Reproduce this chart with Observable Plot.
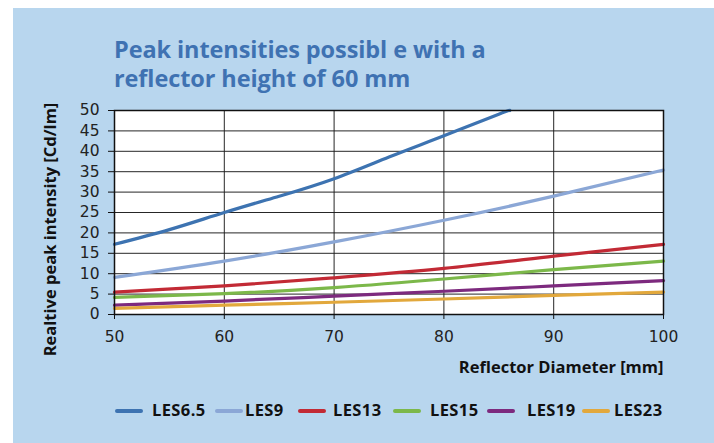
<!DOCTYPE html>
<html>
<head>
<meta charset="utf-8">
<script src="https://cdn.jsdelivr.net/npm/d3@7"></script>
<script src="https://cdn.jsdelivr.net/npm/@observablehq/plot@0.6"></script>
<style>
  html, body { margin: 0; padding: 0; background: #ffffff; width: 714px; height: 443px; overflow: hidden; }
  #panel { position: absolute; left: 13px; top: 8px; width: 701px; height: 435px; background: #b8d6ee; }
  #title { position: absolute; left: 114px; top: 35px; font-family: "Open Sans", sans-serif; font-weight: 700; font-size: 23.5px; line-height: 29px; color: #3f72b2; letter-spacing: -0.1px; }
  #chart { position: absolute; left: 0; top: 0; }
  #legend { position: absolute; left: 0; top: 399px; width: 714px; height: 24px; font-family: "Open Sans", sans-serif; font-weight: 700; font-size: 16.5px; color: #111; }
  .sw { position: absolute; top: 10px; width: 28px; height: 3.5px; border-radius: 2px; }
  .lt { position: absolute; top: 0; line-height: 22px; letter-spacing: 0.4px; }
</style>
</head>
<body>
<div id="panel"></div>
<div id="title">Peak intensities possibl e with a<br>reflector height of 60 mm</div>
<div id="chart"></div>
<div id="legend"></div>
<script>
// Data
const diameter = [50, 60, 70, 80, 90, 100];
const les65Diameter = [50, 55, 60, 65, 70, 75, 80, 85, 86];
const les65 = [17.2, 20.8, 25.0, 29.0, 33.3, 38.6, 43.8, 49.1, 50];
const les9  = [9.1, 13.1, 17.8, 23.1, 29.0, 35.4];
const les13 = [5.5, 7.0, 9.0, 11.3, 14.3, 17.2];
const les15 = [4.2, 5.1, 6.6, 8.7, 11.0, 13.1];
const les19 = [2.3, 3.3, 4.5, 5.7, 7.0, 8.3];
const les23 = [1.5, 2.3, 3.0, 3.8, 4.7, 5.5];
const seriesNames = ["LES6.5", "LES9", "LES13", "LES15", "LES19", "LES23"];
const seriesColors = ["#3d73b1", "#8ba7d6", "#c22a35", "#7cb84a", "#7d2a7e", "#e2a83c"];
const xTicks = [50, 60, 70, 80, 90, 100];
const yTicks = [0, 5, 10, 15, 20, 25, 30, 35, 40, 45, 50];

const rows = [];
les65Diameter.forEach((d, i) => rows.push({series: "LES6.5", d, v: les65[i]}));
[["LES9", les9], ["LES13", les13], ["LES15", les15], ["LES19", les19], ["LES23", les23]]
  .forEach(([name, vals]) => diameter.forEach((d, i) => rows.push({series: name, d, v: vals[i]})));

const tickFont = "'DejaVu Sans', sans-serif";
const chart = Plot.plot({
  width: 714,
  height: 380,
  marginLeft: 114,
  marginRight: 51,
  marginTop: 110,
  marginBottom: 66,
  style: {background: "transparent", fontFamily: "'Open Sans', sans-serif", fontSize: "15px", color: "#1a1a1a", overflow: "visible"},
  x: {domain: [50, 100], ticks: xTicks, label: null},
  y: {domain: [0, 50], ticks: yTicks, label: null},
  color: {domain: seriesNames, range: seriesColors},
  marks: [
    Plot.frame({fill: "#ffffff"}),
    Plot.gridY(yTicks, {stroke: "#1a1a1a", strokeOpacity: 0.95, strokeWidth: 1}),
    Plot.gridX(xTicks, {stroke: "#1a1a1a", strokeOpacity: 0.95, strokeWidth: 1}),
    Plot.line(rows, {x: "d", y: "v", z: "series", stroke: "series", strokeWidth: 3.2, curve: "natural"}),
    Plot.frame({stroke: "#111", strokeWidth: 1.5}),
    Plot.axisY(yTicks, {tickSize: 6, tickPadding: 9, fontSize: 15.5, fontFamily: tickFont, fill: "#222", stroke: "#111", label: null}),
    Plot.axisX(xTicks, {tickSize: 5, tickPadding: 11, fontSize: 15.5, fontFamily: tickFont, fill: "#222", stroke: "#111", label: null}),
    Plot.text(["Reflector Diameter [mm]"], {frameAnchor: "bottom-right", dy: 58, fontWeight: 700, fontSize: 16.5, fill: "#111", textAnchor: "end"}),
    Plot.text(["Realtive peak intensity [Cd/lm]"], {frameAnchor: "left", dx: -64, dy: 17, rotate: -90, textAnchor: "middle", fontWeight: 700, fontSize: 16.5, fill: "#111"})
  ]
});
document.getElementById("chart").appendChild(chart);

// legend layout (swatch left edge, label left edge) in px
const legendSwatchX = [115, 215, 298, 393, 487, 582];
const legendTextX = [152, 245, 333, 430, 527, 614];
const legend = document.getElementById("legend");
seriesNames.forEach((name, i) => {
  const sw = document.createElement("span");
  sw.className = "sw";
  sw.style.left = legendSwatchX[i] + "px";
  sw.style.background = seriesColors[i];
  legend.appendChild(sw);
  const t = document.createElement("span");
  t.className = "lt";
  t.style.left = legendTextX[i] + "px";
  t.textContent = name;
  legend.appendChild(t);
});
</script>
</body>
</html>
